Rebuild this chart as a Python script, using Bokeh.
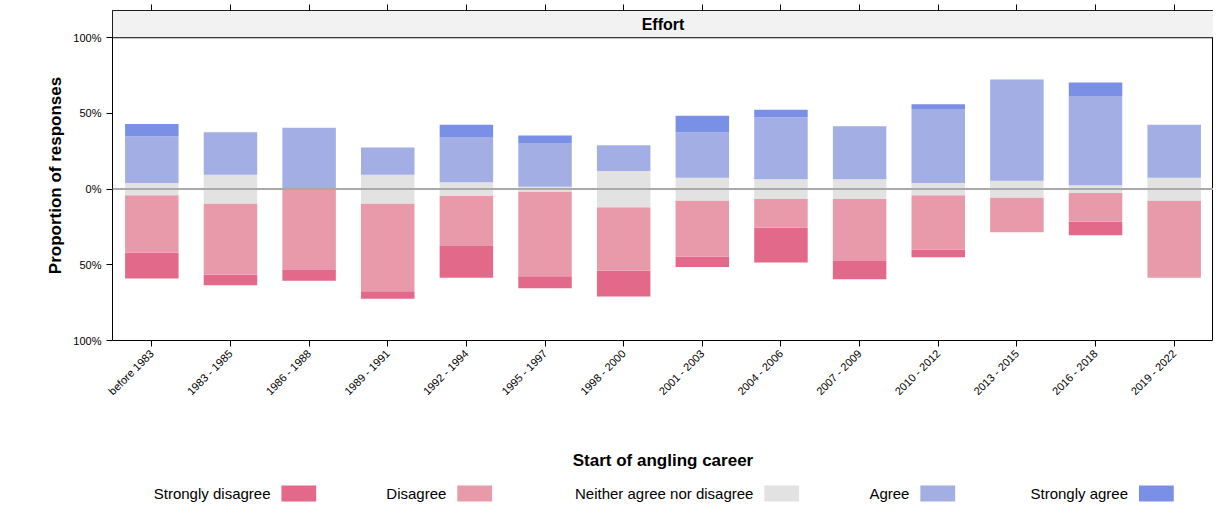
from bokeh.plotting import figure
from bokeh.layouts import column
from bokeh.models import ColumnDataSource, FixedTicker, CategoricalAxis, Span
from bokeh.core.properties import value
from bokeh.embed import file_html
from bokeh.resources import INLINE

periods = ["before 1983", "1983 - 1985", "1986 - 1988", "1989 - 1991", "1992 - 1994",
           "1995 - 1997", "1998 - 2000", "2001 - 2003", "2004 - 2006", "2007 - 2009",
           "2010 - 2012", "2013 - 2015", "2016 - 2018", "2019 - 2022"]
strongly_disagree = [17, 7, 7, 5, 21, 8, 17, 7, 23, 12, 5, 0, 9, 0]
disagree = [38, 47, 53, 58, 33, 56, 42, 37, 19, 41, 36, 23, 19, 51]
neither = [8, 19, 1, 19, 9, 3, 24, 15, 13, 13, 8, 11, 5, 15]
agree = [31, 28, 40, 18, 30, 29, 17, 30, 41, 35, 49, 67, 59, 35]
strongly_agree = [8, 0, 0, 0, 8, 5, 0, 11, 5, 0, 3, 0, 9, 0]
labels = ["Strongly disagree", "Disagree", "Neither agree nor disagree", "Agree", "Strongly agree"]
colors = ["#E3698A", "#E89AAA", "#E2E2E2", "#A2AEE4", "#7A8FE6"]

# stacked segments, neutral centred on zero
n_lo = [-v / 200 for v in neither]
n_hi = [v / 200 for v in neither]
a_hi = [h + v / 100 for h, v in zip(n_hi, agree)]
sa_hi = [h + v / 100 for h, v in zip(a_hi, strongly_agree)]
d_lo = [l - v / 100 for l, v in zip(n_lo, disagree)]
sd_lo = [l - v / 100 for l, v in zip(d_lo, strongly_disagree)]
segs = [(sd_lo, d_lo), (d_lo, n_lo), (n_lo, n_hi), (n_hi, a_hi), (a_hi, sa_hi)]

F = value("Arial")
BL, BR = 112, 0
p = figure(x_range=periods, y_range=(-1.0, 1.18), width=1213, height=473,
           output_backend="svg", toolbar_location=None,
           min_border_left=BL, min_border_right=BR, min_border_top=10, min_border_bottom=127)
for (lo, hi), c in zip(segs, colors):
    src = ColumnDataSource(dict(x=periods, bottom=lo, top=hi))
    p.vbar(x="x", bottom="bottom", top="top", width=0.68, source=src, color=c, line_color=None)

p.add_layout(Span(location=0, dimension="width", line_color="#AAAAAA", line_width=2))
# strip title
p.quad(left=[0], right=[len(periods)], bottom=[1.0], top=[1.18], fill_color="#F2F2F2", line_color="black")
p.text(x=[len(periods) / 2], y=[1.09], text=["Effort"], text_align="center", text_baseline="middle",
       text_font=F, text_font_style="bold", text_font_size="16px")

p.xgrid.visible = False
p.ygrid.visible = False
p.outline_line_color = "black"
p.yaxis.ticker = FixedTicker(ticks=[-1, -0.5, 0, 0.5, 1])
p.yaxis.major_label_overrides = {-1: "100%", -0.5: "50%", 0: "0%", 0.5: "50%", 1: "100%"}
p.yaxis.minor_tick_line_color = None
p.yaxis.axis_line_color = None
p.yaxis.axis_label = "Proportion of responses"
p.xaxis.axis_label = "Start of angling career"
p.xaxis.major_label_orientation = 0.785
p.xaxis.axis_line_color = None
for ax in (p.xaxis[0], p.yaxis[0]):
    ax.major_label_text_font = "Arial"
    ax.major_label_text_font_size = "11px"
    ax.major_label_text_color = "black"
    ax.axis_label_text_color = "black"
    ax.axis_label_text_font = "Arial"
    ax.axis_label_text_font_style = "bold"
    ax.axis_label_text_font_size = "17px"
    ax.major_tick_in = 0
    ax.major_tick_out = 6
p.xaxis.axis_label_standoff = 47
top_ax = CategoricalAxis(major_label_text_font_size="0px", axis_line_color=None, major_tick_in=0, major_tick_out=6)
p.add_layout(top_ax, "above")

# legend row (x in page pixels, frame aligned with main plot)
leg = figure(x_range=(113, 1221), y_range=(0, 30), width=1213, height=30, output_backend="svg",
             toolbar_location=None, min_border_left=BL, min_border_right=BR, min_border_top=0,
             min_border_bottom=0, outline_line_color=None)
leg.axis.visible = False
leg.grid.visible = False
text_ends = [272, 449, 758, 915, 1135]
leg.text(x=text_ends, y=[10] * 5, text=labels, text_align="right", text_baseline="middle",
         text_font=F, text_font_size="15px")
leg.quad(left=[e + 11 for e in text_ends], right=[e + 46 for e in text_ends], bottom=[2] * 5,
         top=[18] * 5, fill_color=colors, line_color=None)

open("out.html", "w").write(file_html(column(p, leg, spacing=0), INLINE))
